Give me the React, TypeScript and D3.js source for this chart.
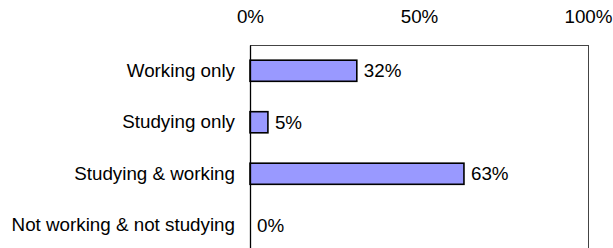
import React, { useEffect, useRef } from "react";
import * as d3 from "d3";

const categories = ["Working only", "Studying only", "Studying & working", "Not working & not studying"];
const shares = [31.6, 5.3, 63.3, 0];
const tickValues = [0, 50, 100];

const App = () => {
  const chartRef = useRef<SVGSVGElement | null>(null);

  useEffect(() => {
    const width = 613;
    const height = 248;
    const margin = { top: 45, left: 250, right: 25 };
    const plotHeight = 206;
    const plotWidth = width - margin.left - margin.right;
    const fontSize = "18.8px";

    const svg = d3.select(chartRef.current)
      .attr("width", width)
      .attr("height", height)
      .style("font-family", "'Liberation Sans', Arial, sans-serif");

    svg.selectAll("*").remove();

    const g = svg.append("g").attr("transform", `translate(${margin.left},${margin.top})`);

    const x = d3.scaleLinear().domain([0, 100]).range([0, plotWidth]);
    const y = d3.scaleBand().domain(categories).range([0, plotHeight]).paddingInner(0.59).paddingOuter(0.295);

    // frame
    g.append("rect")
      .attr("x", 0)
      .attr("y", 0)
      .attr("width", plotWidth)
      .attr("height", plotHeight)
      .attr("fill", "none")
      .attr("stroke", "#444")
      .attr("stroke-width", 1)
      .attr("shape-rendering", "crispEdges");

    // top axis labels
    const top = g.append("g").call(d3.axisTop(x).tickValues(tickValues).tickSize(0).tickPadding(0).tickFormat(d => `${d}%`));
    top.select(".domain").remove();
    top.selectAll(".tick text")
      .attr("y", -22)
      .attr("dy", 0)
      .style("font-size", fontSize)
      .style("font-family", "'Liberation Sans', Arial, sans-serif")
      .attr("fill", "#000");

    // bars
    g.selectAll(".bar")
      .data(shares)
      .enter().append("rect")
      .attr("class", "bar")
      .attr("x", x(0))
      .attr("y", (d, i) => y(categories[i])!)
      .attr("width", d => x(d) - x(0))
      .attr("height", y.bandwidth())
      .attr("fill", "#9999FF")
      .attr("stroke", "#000")
      .attr("stroke-width", d => (d > 0 ? 1.6 : 0));

    // value labels
    g.selectAll(".val")
      .data(shares)
      .enter().append("text")
      .attr("class", "val")
      .attr("x", d => x(d) + 7)
      .attr("y", (d, i) => y(categories[i])! + y.bandwidth() / 2)
      .attr("dy", "0.35em")
      .style("font-size", fontSize)
      .text(d => `${Math.round(d)}%`);

    // left axis
    const left = g.append("g").call(d3.axisLeft(y).tickSize(0).tickPadding(15));
    left.select(".domain").attr("stroke", "#000").attr("stroke-width", 1.3);
    left.selectAll(".tick text")
      .style("font-size", fontSize)
      .style("font-family", "'Liberation Sans', Arial, sans-serif")
      .attr("fill", "#000");
  }, []);

  return (
    <div style={{ position: "absolute", left: 0, top: 0 }}>
      <svg ref={chartRef}></svg>
    </div>
  );
};

export default App;
